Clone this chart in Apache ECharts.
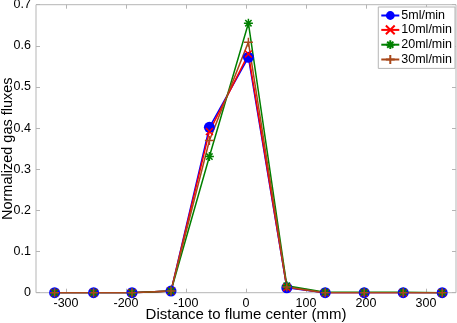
<!DOCTYPE html>
<html>
<head>
<meta charset="utf-8">
<script src="https://cdn.jsdelivr.net/npm/echarts@6/dist/echarts.min.js"></script>
<style>
  html, body { margin: 0; padding: 0; background: #fff; }
  #chart { width: 457px; height: 323px; }
</style>
</head>
<body>
<div id="chart"></div>
<script>
  // distance to flume center (mm)
  const distances = [-319, -254, -190, -125, -61, 4, 68, 132, 197, 262, 327]
  const flux5 = [0, 0, 0, 0.004, 0.402, 0.572, 0.012, 0, 0, 0, 0]
  const flux10 = [0, 0, 0, 0.004, 0.392, 0.580, 0.013, 0, 0, 0, 0]
  const flux20 = [0, 0, 0, 0.004, 0.331, 0.655, 0.017, 0.001, 0.001, 0.001, 0]
  const flux30 = [0, 0, 0, 0.004, 0.370, 0.609, 0.014, 0, 0, 0, 0]
  const seriesNames = ['5ml/min', '10ml/min', '20ml/min', '30ml/min']
  const xTicks = [-300, -200, -100, 0, 100, 200, 300]

  const chartInstance = echarts.init(document.getElementById('chart'), null, { renderer: 'canvas' })
  const font = 'Liberation Sans, Arial, Helvetica, sans-serif'

  function pairs(ys) {
    return distances.map((x, i) => [x, ys[i]])
  }

  const xSymbol = 'path://M0,0L10,10M10,0L0,10'
  const starSymbol = 'path://M5,0L5,10M0,5L10,5M1.5,1.5L8.5,8.5M8.5,1.5L1.5,8.5'
  const plusSymbol = 'path://M5,0L5,10M0,5L10,5'

  function strokeSeries(name, data, color, symbol, size) {
    return {
      name: name,
      type: 'line',
      data: data,
      symbol: symbol,
      symbolSize: size,
      lineStyle: { color: color, width: 1.5 },
      itemStyle: { color: 'none', borderColor: color, borderWidth: 1.5 },
      emphasis: { disabled: true }
    }
  }

  const tickStyle = { show: true, inside: true, length: 4, lineStyle: { color: '#b5b5b5' } }

  const option = {
    animation: false,
    grid: {
      left: 36, right: 1, top: 4.7, bottom: 30.3,
      outerBoundsMode: 'none',
      containLabel: false,
      show: true, borderColor: '#b5b5b5', borderWidth: 1
    },
    legend: {
      orient: 'vertical',
      right: 2,
      top: 7,
      padding: [2, 3, 2, 2],
      itemGap: 1,
      itemWidth: 18,
      itemHeight: 11,
      borderColor: '#b5b5b5',
      borderWidth: 1,
      backgroundColor: '#fff',
      textStyle: { fontFamily: font, fontSize: 12.5, color: '#000', padding: [0, 0, 0, -3] },
      data: seriesNames
    },
    xAxis: [
      {
        type: 'value',
        min: -350,
        max: 350,
        name: 'Distance to flume center (mm)',
        nameLocation: 'middle',
        nameGap: 15,
        nameMoveOverlap: false,
        nameTextStyle: { fontFamily: font, fontSize: 15, color: '#000' },
        axisLine: { show: false, onZero: false },
        axisTick: Object.assign({ customValues: xTicks }, tickStyle),
        axisLabel: { customValues: xTicks, fontFamily: font, fontSize: 12.5, color: '#000', margin: 4 },
        splitLine: { show: false }
      },
      {
        type: 'value',
        position: 'top',
        min: -350,
        max: 350,
        axisLine: { show: false, onZero: false },
        axisTick: Object.assign({ customValues: xTicks }, tickStyle),
        axisLabel: { show: false },
        splitLine: { show: false }
      }
    ],
    yAxis: [
      {
        type: 'value',
        position: 'left',
        min: 0,
        max: 0.7,
        interval: 0.1,
        name: 'Normalized gas fluxes',
        nameLocation: 'middle',
        nameGap: 21,
        nameMoveOverlap: false,
        nameTextStyle: { fontFamily: font, fontSize: 14.5, color: '#000' },
        axisLine: { show: false, onZero: false },
        axisTick: tickStyle,
        axisLabel: {
          fontFamily: font, fontSize: 12.5, color: '#000', margin: 5,
          formatter: v => v === 0 ? '0' : v.toFixed(1)
        },
        splitLine: { show: false }
      },
      {
        type: 'value',
        position: 'right',
        min: 0,
        max: 0.7,
        interval: 0.1,
        axisLine: { show: false, onZero: false },
        axisTick: tickStyle,
        axisLabel: { show: false },
        splitLine: { show: false }
      }
    ],
    series: [
      {
        name: seriesNames[0],
        type: 'line',
        data: pairs(flux5),
        symbol: 'circle',
        symbolSize: 11,
        lineStyle: { color: '#0000ff', width: 1.5 },
        itemStyle: { color: '#0000ff' },
        emphasis: { disabled: true }
      },
      strokeSeries(seriesNames[1], pairs(flux10), '#ff0000', xSymbol, 7),
      strokeSeries(seriesNames[2], pairs(flux20), '#008000', starSymbol, 9),
      strokeSeries(seriesNames[3], pairs(flux30), '#a8481a', plusSymbol, 9)
    ]
  }
  chartInstance.setOption(option)
</script>
</body>
</html>
